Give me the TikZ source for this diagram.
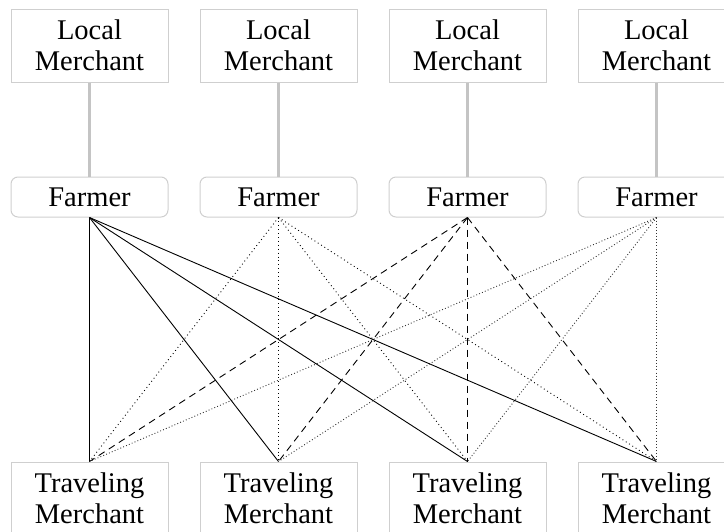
\documentclass[tikz,border=0pt]{standalone}
\usepackage{fontspec}
\setmainfont{Liberation Serif}
\definecolor{boxgray}{HTML}{CFCFCF}
\definecolor{linkgray}{HTML}{C4C4C4}
\tikzset{
  txt/.style={font=\fontsize{28.5}{31}\selectfont, align=center, inner sep=0pt},
  merchbox/.style={txt, draw=boxgray, line width=1pt, minimum width=157pt, minimum height=73pt},
  farmbox/.style={txt, draw=boxgray, line width=1pt, rounded corners=7pt, minimum width=157pt, minimum height=40pt},
  graylink/.style={draw=linkgray, line width=2.2pt},
  solidlink/.style={draw=black, line width=0.9pt},
  dotlink/.style={draw=black, line width=0.9pt, dash pattern=on 0.9pt off 3pt},
  dotlinkb/.style={draw=black!80, line width=0.9pt, dash pattern=on 0.9pt off 2.2pt},
  dashlink/.style={draw=black, line width=0.9pt, dash pattern=on 7pt off 5pt},
}
\begin{document}
\begin{tikzpicture}[x=1pt,y=-1pt]
\useasboundingbox (0,0) rectangle (724,531);
\foreach \i/\x in {1/89.5,2/278.5,3/467.5,4/656.5}{
  \node[merchbox] (L\i) at (\x,45.5) {Local\\Merchant};
  \node[farmbox] (F\i) at (\x,197) {Farmer};
  \node[merchbox] (T\i) at (\x,498.5) {Traveling\\Merchant};
  \draw[graylink] (L\i.south) -- (F\i.north);
}
\foreach \j in {1,2,3,4}{
  \draw[solidlink] (F1.south) -- (T\j.north);
  \draw[dotlink] (F2.south) -- (T\j.north);
  \draw[dashlink] (F3.south) -- (T\j.north);
  \draw[dotlinkb] (F4.south) -- (T\j.north);
}
\end{tikzpicture}
\end{document}
